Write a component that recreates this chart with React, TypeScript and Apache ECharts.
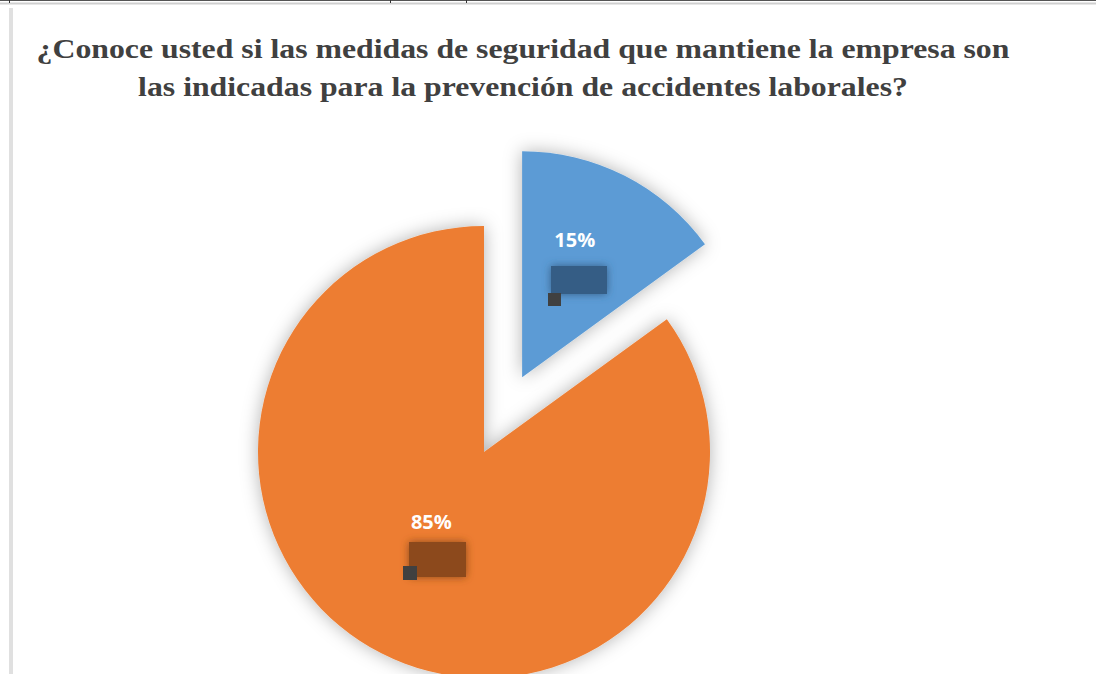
import React, { useEffect, useRef } from "react";
import * as echarts from "echarts";

const titleLines = [
  "¿Conoce usted si las medidas de seguridad que mantiene la empresa son",
  "las indicadas para la prevención de accidentes laborales?",
];
const categories = ["Sí", "No"];
const values = [15, 85];
const colors = ["#5B9BD5", "#ED7D31"];

export default function App() {
  const ref = useRef<HTMLDivElement>(null);
  useEffect(() => {
    if (!ref.current) return;
    const chart = echarts.init(ref.current, null, { renderer: "svg" });
    const labelCfg = {
      show: true,
      position: "inside",
      offset: [0, -34],
      formatter: "{d}%",
      color: "#ffffff",
      fontFamily: "Open Sans",
      fontWeight: "bold",
      fontSize: 20,
    };
    chart.setOption({
      animation: false,
      backgroundColor: "#ffffff",
      series: [
        {
          type: "pie",
          center: [484, 452],
          radius: 226,
          startAngle: 90,
          clockwise: true,
          selectedMode: "single",
          selectedOffset: 84,
          avoidLabelOverlap: false,
          emphasis: { disabled: true },
          itemStyle: {
            shadowBlur: 18,
            shadowColor: "rgba(0,0,0,0.3)",
          },
          label: labelCfg,
          select: { label: { offset: [0, -34] } },
          labelLine: { show: false },
          data: categories.map((c, i) => ({
            name: c,
            value: values[i],
            selected: i === 0,
            itemStyle: { color: colors[i] },
          })),
        },
      ],
      graphic: [
        {
          type: "text",
          x: 523,
          y: 48,
          scaleX: 1.135,
          z: 100,
          style: {
            text: titleLines[0],
            fontFamily: "Liberation Serif",
            fontWeight: "bold",
            fontSize: 28,
            fill: "#404040",
            align: "center",
            verticalAlign: "middle",
          },
        },
        {
          type: "text",
          x: 523,
          y: 86,
          scaleX: 1.135,
          z: 100,
          style: {
            text: titleLines[1],
            fontFamily: "Liberation Serif",
            fontWeight: "bold",
            fontSize: 28,
            fill: "#404040",
            align: "center",
            verticalAlign: "middle",
          },
        },
        { type: "line", z: 100, shape: { x1: 0, y1: 0.5, x2: 1096, y2: 0.5 }, style: { stroke: "#555", lineWidth: 1 } },
        { type: "line", z: 100, shape: { x1: 0, y1: 3.5, x2: 1096, y2: 3.5 }, style: { stroke: "#cfcfcf", lineWidth: 2 } },
        { type: "line", z: 100, shape: { x1: 9.5, y1: 0, x2: 9.5, y2: 3 }, style: { stroke: "#333", lineWidth: 1 } },
        { type: "line", z: 100, shape: { x1: 390.5, y1: 0, x2: 390.5, y2: 3 }, style: { stroke: "#333", lineWidth: 1 } },
        { type: "line", z: 100, shape: { x1: 466.5, y1: 0, x2: 466.5, y2: 3 }, style: { stroke: "#333", lineWidth: 1 } },
        { type: "rect", z: 100, shape: { x: 9, y: 8, width: 4, height: 670 }, style: { fill: "#e0e0e0" } },
        {
          type: "rect",
          z: 100,
          shape: { x: 551, y: 266, width: 56, height: 28 },
          style: { fill: "#365d85", shadowBlur: 9, shadowColor: "#365d85" },
        },
        { type: "rect", z: 101, shape: { x: 548, y: 293, width: 13, height: 13 }, style: { fill: "#404040" } },
        {
          type: "rect",
          z: 100,
          shape: { x: 409, y: 542, width: 57, height: 35 },
          style: { fill: "#8c4a1f", shadowBlur: 9, shadowColor: "#8c4a1f" },
        },
        { type: "rect", z: 101, shape: { x: 403, y: 566, width: 14, height: 14 }, style: { fill: "#404040" } },
      ],
    });
    return () => chart.dispose();
  }, []);
  return (
    <div
      ref={ref}
      style={{ position: "absolute", left: 0, top: 0, width: 1096, height: 674 }}
    />
  );
}
